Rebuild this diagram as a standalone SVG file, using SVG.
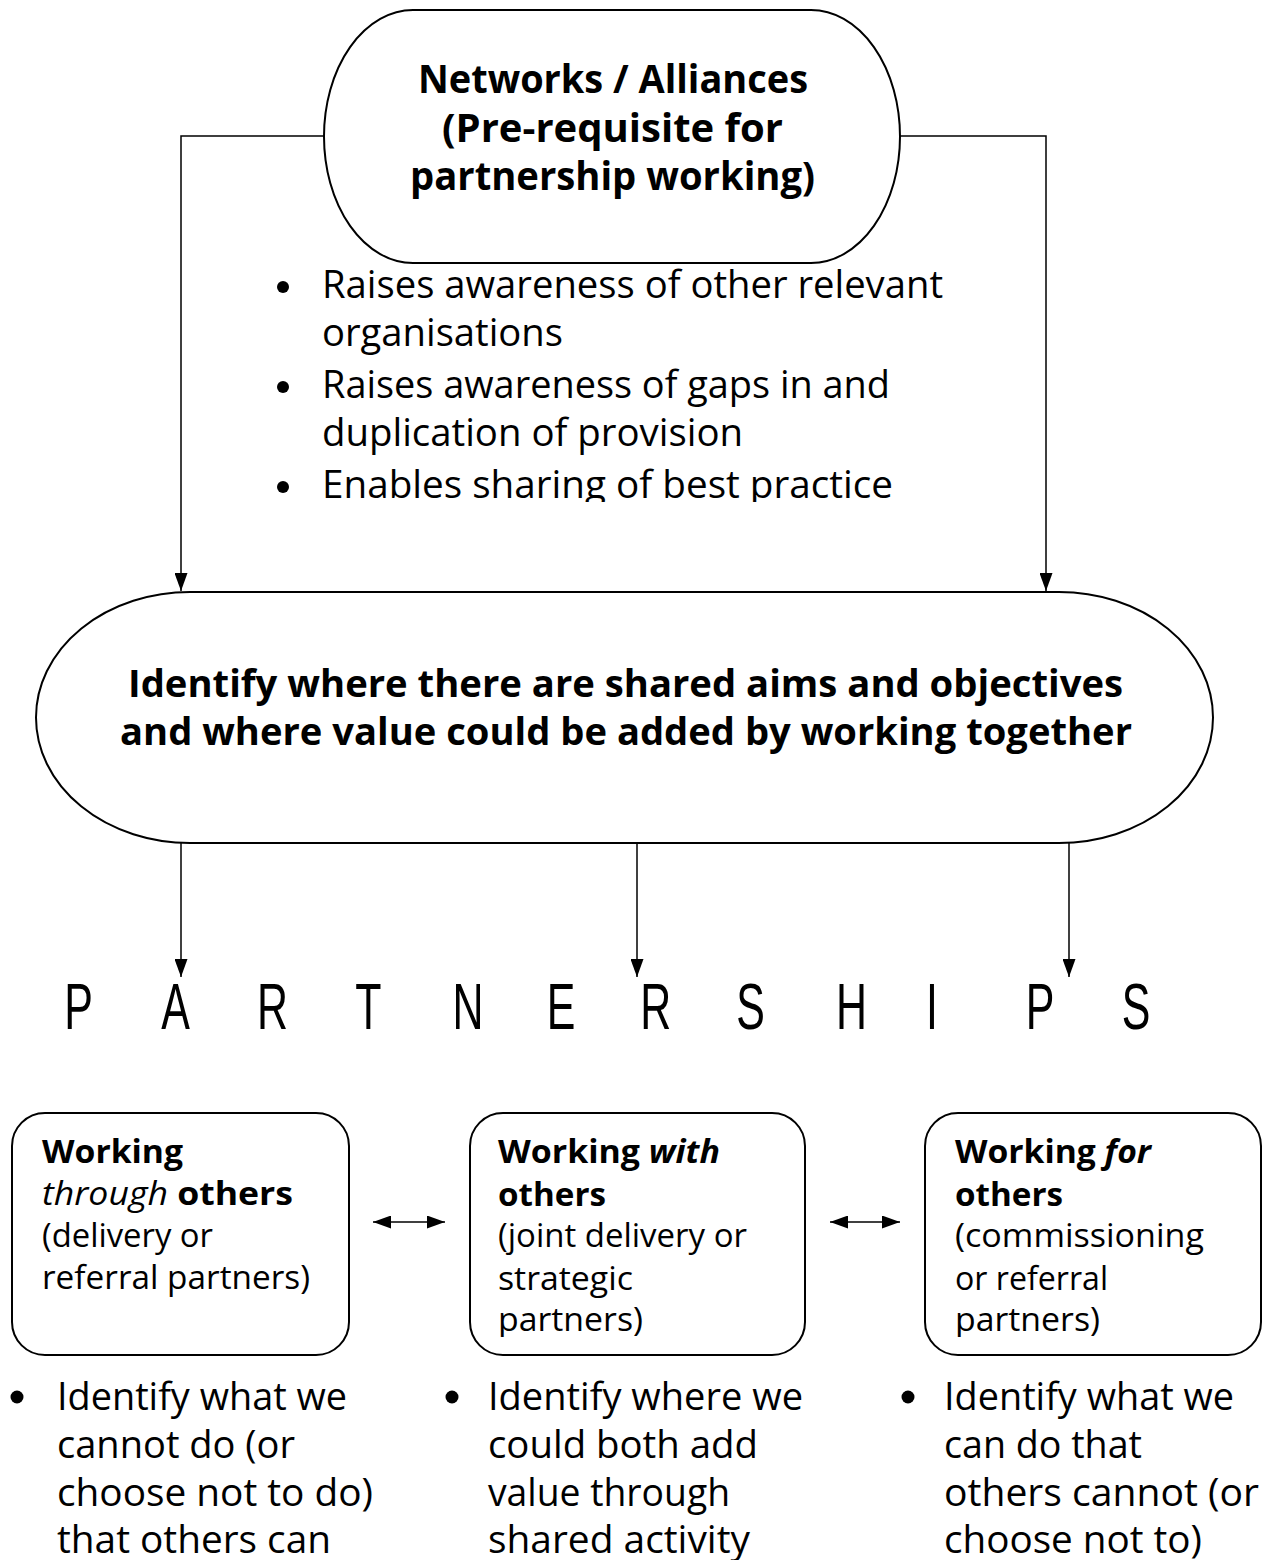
<svg xmlns="http://www.w3.org/2000/svg" width="1265" height="1560" viewBox="0 0 1265 1560">
  <style>
    .t { font-family: "Open Sans", "Liberation Sans", sans-serif; fill: #000; }
    .b { font-weight: bold; }
    .i { font-style: italic; }
    .shape { fill: #fff; stroke: #000; stroke-width: 2; }
    .conn { fill: none; stroke: #000; stroke-width: 1.5; }
    .top { font-size: 39px; }
    .bul { font-size: 38px; }
    .mid { font-size: 37px; }
    .box { font-size: 33px; }
    .low { font-size: 38px; }
    .pl { font-family: "Liberation Sans", "Open Sans", sans-serif; font-size: 65px; fill: #000; }
  </style>
  <defs>
    <marker id="ah" viewBox="0 0 18 13" refX="18" refY="6.5" markerWidth="18" markerHeight="13" markerUnits="userSpaceOnUse" orient="auto-start-reverse">
      <path d="M0,0 L18,6.5 L0,13 Z" fill="#000"/>
    </marker>
    <clipPath id="clipTop"><rect x="0" y="265" width="1265" height="237"/></clipPath>
    <clipPath id="clipBox"><rect x="0" y="1100" width="1265" height="237"/></clipPath>
  </defs>

  <rect width="1265" height="1560" fill="#fff"/>

  <g id="connectors">
    <path class="conn" d="M325,136 H181 V591" marker-end="url(#ah)"/>
    <path class="conn" d="M900,136 H1046 V591" marker-end="url(#ah)"/>
    <path class="conn" d="M181,843 V977" marker-end="url(#ah)"/>
    <path class="conn" d="M637,843 V977" marker-end="url(#ah)"/>
    <path class="conn" d="M1069,843 V977" marker-end="url(#ah)"/>
    <path class="conn" d="M373,1222 H445" marker-start="url(#ah)" marker-end="url(#ah)"/>
    <path class="conn" d="M830,1222 H900" marker-start="url(#ah)" marker-end="url(#ah)"/>
  </g>

  <g id="node-networks">
    <path class="shape" d="M413,10 H811 A89,126.5 0 0 1 811,263 H413 A89,126.5 0 0 1 413,10 Z"/>
    <text class="t b top" x="418" y="93" textLength="390" lengthAdjust="spacingAndGlyphs">Networks / Alliances</text>
    <text class="t b top" x="442" y="142" textLength="341" lengthAdjust="spacingAndGlyphs">(Pre-requisite for</text>
    <text class="t b top" x="410" y="190" textLength="405" lengthAdjust="spacingAndGlyphs">partnership working)</text>
  </g>

  <g id="networks-bullets" clip-path="url(#clipTop)">
    <circle cx="283" cy="287" r="6"/>
    <circle cx="283" cy="387" r="6"/>
    <circle cx="283" cy="487" r="6"/>
    <text class="t bul" x="322" y="298" textLength="621" lengthAdjust="spacingAndGlyphs">Raises awareness of other relevant</text>
    <text class="t bul" x="322" y="346" textLength="241" lengthAdjust="spacingAndGlyphs">organisations</text>
    <text class="t bul" x="322" y="398" textLength="568" lengthAdjust="spacingAndGlyphs">Raises awareness of gaps in and</text>
    <text class="t bul" x="322" y="446" textLength="421" lengthAdjust="spacingAndGlyphs">duplication of provision</text>
    <text class="t bul" x="322" y="498" textLength="571" lengthAdjust="spacingAndGlyphs">Enables sharing of best practice</text>
  </g>

  <g id="node-identify">
    <path class="shape" d="M190,592 H1059 A154,125.5 0 0 1 1059,843 H190 A154,125.5 0 0 1 190,592 Z"/>
    <text class="t b mid" x="128" y="697" textLength="995" lengthAdjust="spacingAndGlyphs">Identify where there are shared aims and objectives</text>
    <text class="t b mid" x="120" y="745" textLength="1012" lengthAdjust="spacingAndGlyphs">and where value could be added by working together</text>
  </g>

  <g id="node-partnerships">
    <text class="pl" transform="scale(0.66 1)" y="1029" text-anchor="middle" x="119.2 265.9 412.7 558.3 709.1 850 993.6 1137.4 1290.2 1412.1 1575.8 1721.2">PARTNERSHIPS</text>
  </g>

  <g id="node-through">
    <rect class="shape" x="12" y="1113" width="337" height="242" rx="33" ry="33"/>
    <text class="t b box" x="42" y="1163" textLength="141" lengthAdjust="spacingAndGlyphs">Working</text>
    <text class="t box" x="42" y="1205" textLength="251" lengthAdjust="spacingAndGlyphs"><tspan class="i">through</tspan><tspan class="b"> others</tspan></text>
    <text class="t box" x="42" y="1247" textLength="171" lengthAdjust="spacingAndGlyphs">(delivery or</text>
    <text class="t box" x="42" y="1289" textLength="268" lengthAdjust="spacingAndGlyphs">referral partners)</text>
  </g>

  <g id="node-with">
    <rect class="shape" x="470" y="1113" width="335" height="242" rx="33" ry="33"/>
    <g clip-path="url(#clipBox)">
      <text class="t b box" x="498" y="1163" textLength="222" lengthAdjust="spacingAndGlyphs">Working <tspan class="i">with</tspan></text>
      <text class="t b box" x="498" y="1206" textLength="108" lengthAdjust="spacingAndGlyphs">others</text>
      <text class="t box" x="498" y="1247" textLength="249" lengthAdjust="spacingAndGlyphs">(joint delivery or</text>
      <text class="t box" x="498" y="1290" textLength="135" lengthAdjust="spacingAndGlyphs">strategic</text>
      <text class="t box" x="498" y="1331" textLength="145" lengthAdjust="spacingAndGlyphs">partners)</text>
    </g>
  </g>

  <g id="node-for">
    <rect class="shape" x="925" y="1113" width="336" height="242" rx="33" ry="33"/>
    <g clip-path="url(#clipBox)">
      <text class="t b box" x="955" y="1163" textLength="196" lengthAdjust="spacingAndGlyphs">Working <tspan class="i">for</tspan></text>
      <text class="t b box" x="955" y="1206" textLength="108" lengthAdjust="spacingAndGlyphs">others</text>
      <text class="t box" x="955" y="1247" textLength="249" lengthAdjust="spacingAndGlyphs">(commissioning</text>
      <text class="t box" x="955" y="1290" textLength="153" lengthAdjust="spacingAndGlyphs">or referral</text>
      <text class="t box" x="955" y="1331" textLength="145" lengthAdjust="spacingAndGlyphs">partners)</text>
    </g>
  </g>

  <g id="bullets-through">
    <circle cx="17" cy="1397" r="6.5"/>
    <text class="t low" x="57" y="1410" textLength="290" lengthAdjust="spacingAndGlyphs">Identify what we</text>
    <text class="t low" x="57" y="1458" textLength="238" lengthAdjust="spacingAndGlyphs">cannot do (or</text>
    <text class="t low" x="57" y="1506" textLength="316" lengthAdjust="spacingAndGlyphs">choose not to do)</text>
    <text class="t low" x="57" y="1553" textLength="274" lengthAdjust="spacingAndGlyphs">that others can</text>
  </g>

  <g id="bullets-with">
    <circle cx="452" cy="1397" r="6.5"/>
    <text class="t low" x="488" y="1410" textLength="315" lengthAdjust="spacingAndGlyphs">Identify where we</text>
    <text class="t low" x="488" y="1458" textLength="270" lengthAdjust="spacingAndGlyphs">could both add</text>
    <text class="t low" x="488" y="1506" textLength="242" lengthAdjust="spacingAndGlyphs">value through</text>
    <text class="t low" x="488" y="1553" textLength="262" lengthAdjust="spacingAndGlyphs">shared activity</text>
  </g>

  <g id="bullets-for">
    <circle cx="908" cy="1397" r="6.5"/>
    <text class="t low" x="944" y="1410" textLength="290" lengthAdjust="spacingAndGlyphs">Identify what we</text>
    <text class="t low" x="944" y="1458" textLength="198" lengthAdjust="spacingAndGlyphs">can do that</text>
    <text class="t low" x="944" y="1506" textLength="315" lengthAdjust="spacingAndGlyphs">others cannot (or</text>
    <text class="t low" x="944" y="1553" textLength="258" lengthAdjust="spacingAndGlyphs">choose not to)</text>
  </g>
</svg>
